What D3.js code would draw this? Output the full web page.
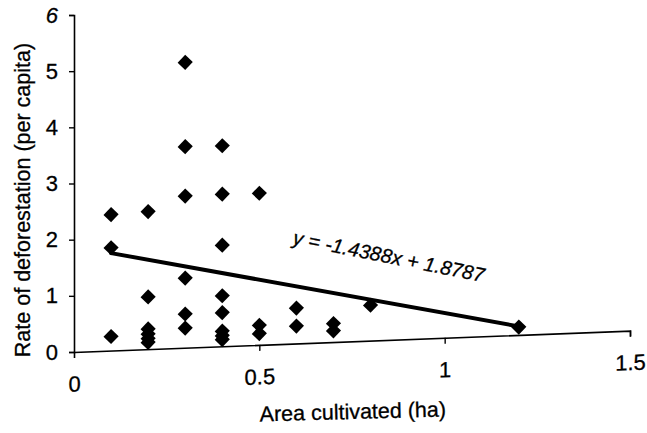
<!DOCTYPE html>
<html>
<head>
<meta charset="utf-8">
<script src="https://cdn.jsdelivr.net/npm/d3@7"></script>
<style>
  html, body { margin: 0; padding: 0; background: #fff; }
  svg { display: block; }
  text { font-family: "Liberation Sans", Arial, sans-serif; fill: #000; }
</style>
</head>
<body>
<svg id="chart" width="647" height="433"></svg>
<script>
// ---- data ----
const areaCultivated = [
  0.1, 0.1, 0.1,
  0.2, 0.2, 0.2, 0.2, 0.2, 0.2,
  0.3, 0.3, 0.3, 0.3, 0.3, 0.3,
  0.4, 0.4, 0.4, 0.4, 0.4, 0.4, 0.4, 0.4,
  0.5, 0.5, 0.5,
  0.6, 0.6,
  0.7, 0.7,
  0.8,
  1.2
];
const deforestationRate = [
  2.42, 1.83, 0.25,
  2.45, 0.93, 0.36, 0.27, 0.19, 0.12,
  5.08, 3.58, 2.70, 1.24, 0.60, 0.35,
  3.57, 2.71, 1.80, 0.90, 0.60, 0.27, 0.19, 0.12,
  2.70, 0.35, 0.20,
  0.63, 0.31,
  0.33, 0.20,
  0.63,
  0.14
];
const xTicks = [0, 0.5, 1, 1.5];
const xTickLabels = ["0", "0.5", "1", "1.5"];
const yTicks = [0, 1, 2, 3, 4, 5, 6];
const yTickLabels = ["0", "1", "2", "3", "4", "5", "6"];
const slope = -1.4388;
const intercept = 1.8787;
const fitRange = [0.1, 1.2];
const equationLabel = "y = -1.4388x + 1.8787";
const xTitle = "Area cultivated (ha)";
const yTitle = "Rate of deforestation (per capita)";

// ---- layout ----
const svg = d3.select("#chart");
const originX = 74, originY = 352;
const plotW = 556, plotH = 337;

const x = d3.scaleLinear().domain([0, 1.5]).range([0, plotW]);
const y = d3.scaleLinear().domain([0, 6]).range([0, -plotH]);

// slight scan tilt of the page
const g = svg.append("g")
  .attr("transform", `translate(${originX},${originY}) skewY(-2.2)`);

const fontStack = "'Liberation Sans', Arial, sans-serif";

// x axis
const xAxis = d3.axisBottom(x)
  .tickValues(xTicks)
  .tickFormat((d, i) => xTickLabels[i])
  .tickSizeOuter(0)
  .tickSize(6)
  .tickPadding(18);
const gx = g.append("g").call(xAxis);
gx.select(".domain").attr("stroke", "#000").attr("stroke-width", 1.6);
gx.selectAll(".tick line").attr("stroke", "#000").attr("stroke-width", 1.4);
gx.selectAll(".tick text").style("font-size", "22px").attr("fill", "#000")
  .style("font-family", fontStack).attr("stroke", "#000").attr("stroke-width", 0.3);
gx.selectAll(".tick").filter(d => d === 0).select("line").remove();

// y axis
const yAxis = d3.axisLeft(y)
  .tickValues(yTicks)
  .tickFormat((d, i) => yTickLabels[i])
  .tickSizeOuter(0)
  .tickSize(5)
  .tickPadding(11);
const gy = svg.append("g").attr("transform", `translate(${originX},${originY})`).call(yAxis);
gy.select(".domain").attr("stroke", "#000").attr("stroke-width", 1.6);
gy.selectAll(".tick line").attr("stroke", "#000").attr("stroke-width", 1.4);
gy.selectAll(".tick text").style("font-size", "22px").attr("fill", "#000")
  .style("font-family", fontStack).attr("stroke", "#000").attr("stroke-width", 0.3);
gy.selectAll(".tick").filter(d => d === 6).select("text").style("font-style", "italic");

// points
const diamond = d3.symbol().type(d3.symbolSquare).size(115);
g.append("g").selectAll("path")
  .data(areaCultivated.map((a, i) => [a, deforestationRate[i]]))
  .join("path")
  .attr("d", diamond)
  .attr("transform", d => `translate(${x(d[0])},${y(d[1])}) rotate(45)`)
  .attr("fill", "#000");

// regression line
const line = d3.line().x(d => x(d)).y(d => y(slope * d + intercept));
g.append("path")
  .datum(fitRange)
  .attr("d", line)
  .attr("fill", "none")
  .attr("stroke", "#000")
  .attr("stroke-width", 4)
  .attr("stroke-linecap", "round");

// equation
svg.append("text")
  .attr("transform", "translate(292,244) rotate(11.3)")
  .style("font-size", "20px")
  .style("font-style", "italic")
  .attr("stroke", "#000").attr("stroke-width", 0.3)
  .text(equationLabel);

// axis titles
svg.append("text")
  .attr("x", 353).attr("y", 419)
  .attr("text-anchor", "middle")
  .attr("transform", "rotate(-1.5,353,419)")
  .style("font-size", "21.5px")
  .attr("stroke", "#000").attr("stroke-width", 0.3)
  .text(xTitle);

svg.append("text")
  .attr("transform", "translate(30,200) rotate(-90)")
  .attr("text-anchor", "middle")
  .style("font-size", "21.5px")
  .attr("stroke", "#000").attr("stroke-width", 0.3)
  .text(yTitle);
</script>
</body>
</html>
